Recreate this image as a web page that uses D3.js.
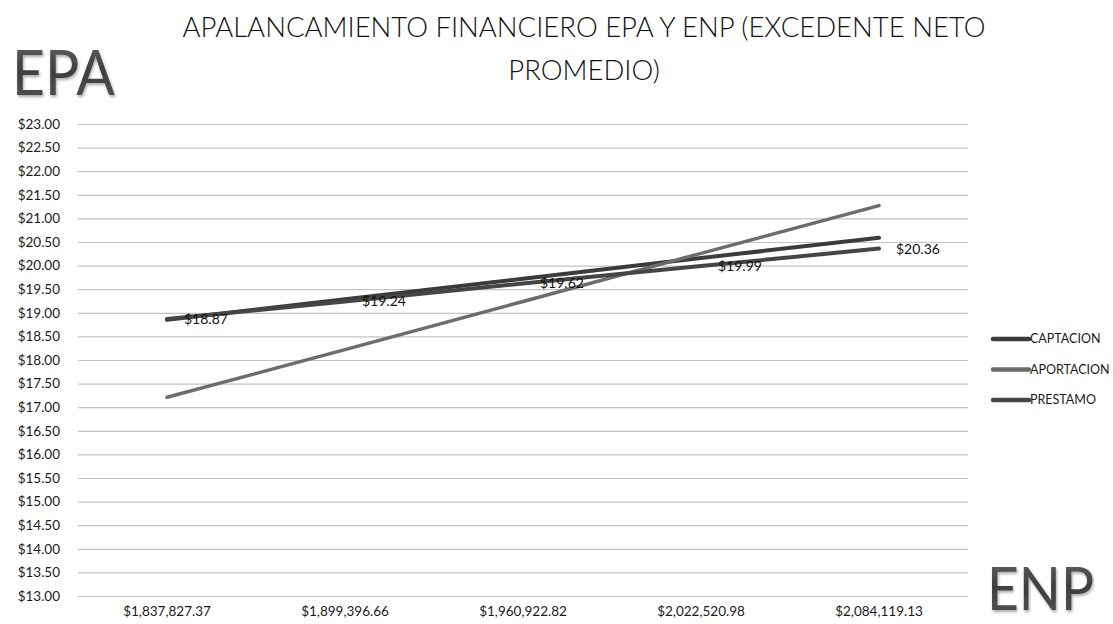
<!DOCTYPE html>
<html>
<head>
<meta charset="utf-8">
<script src="https://cdn.jsdelivr.net/npm/d3@7/dist/d3.min.js"></script>
<style>
  html, body { margin: 0; padding: 0; background: #fff; }
  svg { display: block; }
  text { font-family: Lato, "Liberation Sans", sans-serif; }
</style>
</head>
<body>
<svg id="chart" width="1113" height="624"></svg>
<script>
// EPA vs. excedente neto promedio for three financing sources
const categories = ["$1,837,827.37", "$1,899,396.66", "$1,960,922.82", "$2,022,520.98", "$2,084,119.13"];
const captacion  = [18.85, 19.29, 19.72, 20.16, 20.59];
const aportacion = [17.21, 18.22, 19.24, 20.26, 21.27];
const prestamo   = [18.87, 19.24, 19.62, 19.99, 20.36];
const seriesNames = ["CAPTACION", "APORTACION", "PRESTAMO"];
const seriesColors = ["#3b3b3b", "#6c6c6c", "#454545"];
const seriesWidths = [4, 3.5, 4];
const yTicks = d3.range(13, 23.001, 0.5);

const FONT = "Lato, \"Liberation Sans\", sans-serif";

const series = [captacion, aportacion, prestamo].map((values, i) => ({
  name: seriesNames[i], values, color: seriesColors[i], width: seriesWidths[i]
}));

const svg = d3.select("#chart");
const plot = { left: 78, right: 968, top: 124, bottom: 596 };

const x = d3.scaleBand().domain(categories).range([plot.left, plot.right]);
const y = d3.scaleLinear().domain([13, 23]).range([plot.bottom, plot.top]);
const fmt = v => "$" + d3.format(".2f")(v);

// soft shading for the big axis captions
const defs = svg.append("defs");
const shadow = defs.append("filter").attr("id", "soft").attr("x", "-10%").attr("y", "-10%").attr("width", "130%").attr("height", "130%");
shadow.append("feGaussianBlur").attr("in", "SourceAlpha").attr("stdDeviation", 1.5).attr("result", "b");
shadow.append("feOffset").attr("in", "b").attr("dx", 1).attr("dy", 1.5).attr("result", "o");
shadow.append("feComponentTransfer").attr("in", "o").attr("result", "s")
  .append("feFuncA").attr("type", "linear").attr("slope", 0.35);
const merge = shadow.append("feMerge");
merge.append("feMergeNode").attr("in", "s");
merge.append("feMergeNode").attr("in", "SourceGraphic");
const grad = defs.append("linearGradient").attr("id", "capgrad").attr("x1", 0).attr("y1", 0).attr("x2", 0).attr("y2", 1);
grad.append("stop").attr("offset", "0%").attr("stop-color", "#6a6a6a");
grad.append("stop").attr("offset", "50%").attr("stop-color", "#3e3e3e");
grad.append("stop").attr("offset", "100%").attr("stop-color", "#555");

// title (two lines, centred over the plot)
const title = svg.append("text")
  .attr("x", 584).attr("y", 37)
  .attr("text-anchor", "middle")
  .attr("font-size", 27.5)
  .attr("font-weight", 300)
  .attr("fill", "#111");
title.append("tspan").attr("x", 584).attr("dy", 0).text("APALANCAMIENTO FINANCIERO EPA Y ENP (EXCEDENTE NETO");
title.append("tspan").attr("x", 584).attr("dy", 43).text("PROMEDIO)");

// horizontal gridlines
svg.append("g")
  .attr("transform", `translate(${plot.left},0)`)
  .call(d3.axisLeft(y).tickValues(yTicks).tickSize(-(plot.right - plot.left)).tickFormat(""))
  .call(g => g.select(".domain").remove())
  .call(g => g.selectAll(".tick line").attr("stroke", "#c4c4c4").attr("stroke-width", 1.2));

// y tick labels
svg.append("g")
  .attr("transform", `translate(60,0)`)
  .call(d3.axisLeft(y).tickValues(yTicks).tickSize(0).tickPadding(0).tickFormat(fmt))
  .call(g => g.select(".domain").remove())
  .call(g => g.selectAll("text")
    .attr("font-family", FONT)
    .attr("font-size", 13.5).attr("fill", "#1a1a1a"));

// x tick labels
svg.append("g")
  .attr("transform", `translate(0,${plot.bottom})`)
  .call(d3.axisBottom(x).tickSize(0).tickPadding(10))
  .call(g => g.select(".domain").remove())
  .call(g => g.selectAll("text")
    .attr("font-family", FONT)
    .attr("font-size", 13.5).attr("fill", "#1a1a1a"));

// series lines
const line = d3.line()
  .x((d, i) => x(categories[i]) + x.bandwidth() / 2)
  .y(d => y(d));

svg.append("g").selectAll("path")
  .data(series)
  .join("path")
  .attr("d", d => line(d.values))
  .attr("fill", "none")
  .attr("stroke", d => d.color)
  .attr("stroke-width", d => d.width)
  .attr("stroke-linecap", "round")
  .attr("stroke-linejoin", "round");

// value labels on PRESTAMO
svg.append("g").selectAll("text")
  .data(prestamo)
  .join("text")
  .attr("x", (d, i) => x(categories[i]) + x.bandwidth() / 2 + 17)
  .attr("y", d => y(d))
  .attr("dy", "0.35em")
  .attr("font-size", 14)
  .attr("fill", "#111")
  .text(fmt);

// legend
const legend = svg.append("g").selectAll("g")
  .data(series)
  .join("g")
  .attr("transform", (d, i) => `translate(993,${339 + i * 30.5})`);
legend.append("line")
  .attr("x1", 0).attr("x2", 36)
  .attr("stroke", d => d.color)
  .attr("stroke-width", 4.5)
  .attr("stroke-linecap", "round");
legend.append("text")
  .attr("x", 37).attr("dy", "0.35em")
  .attr("font-size", 12.5)
  .attr("fill", "#1a1a1a")
  .text(d => d.name);

// axis captions
svg.append("text")
  .attr("transform", "translate(12,95) scale(0.92,1)")
  .attr("font-size", 62)
  .attr("fill", "url(#capgrad)")
  .attr("filter", "url(#soft)")
  .text("EPA");
svg.append("text")
  .attr("transform", "translate(987,610) scale(0.92,1)")
  .attr("font-size", 60)
  .attr("fill", "url(#capgrad)")
  .attr("filter", "url(#soft)")
  .text("ENP");
</script>
</body>
</html>
